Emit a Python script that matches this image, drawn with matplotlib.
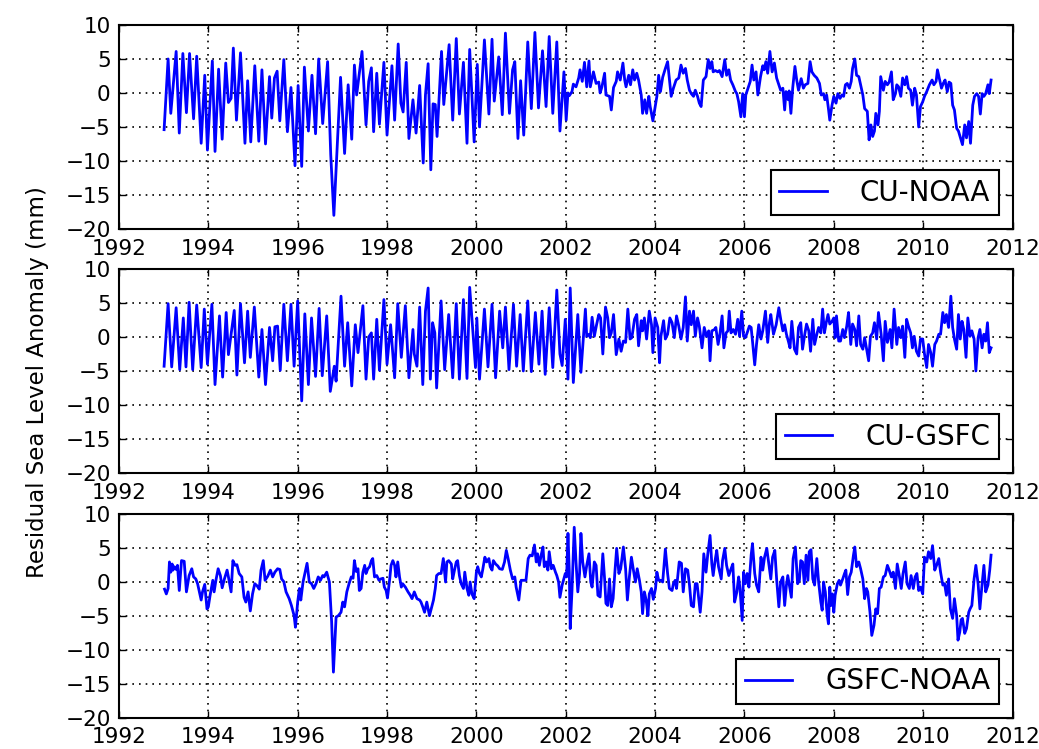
import numpy as np
import matplotlib
matplotlib.use('Agg')
import matplotlib.pyplot as plt

# CU-NOAA residual (decimal year, mm)
t_cu_noaa = [1993.01, 1993.10, 1993.16, 1993.28, 1993.35, 1993.43, 1993.51, 1993.58, 1993.67, 1993.74,
             1993.84, 1993.92, 1993.98, 1994.09, 1994.15, 1994.23, 1994.31, 1994.39, 1994.45, 1994.51,
             1994.56, 1994.63, 1994.72, 1994.82, 1994.88, 1994.95, 1995.04, 1995.13, 1995.20, 1995.28,
             1995.37, 1995.42, 1995.48, 1995.54, 1995.60, 1995.69, 1995.77, 1995.85, 1995.94, 1996.01,
             1996.09, 1996.15, 1996.24, 1996.32, 1996.40, 1996.47, 1996.56, 1996.67, 1996.74, 1996.81,
             1996.96, 1997.05, 1997.13, 1997.21, 1997.27, 1997.32, 1997.44, 1997.53, 1997.59, 1997.65,
             1997.70, 1997.77, 1997.83, 1997.93, 1998.00, 1998.11, 1998.17, 1998.25, 1998.31, 1998.36,
             1998.43, 1998.49, 1998.58, 1998.65, 1998.73, 1998.81, 1998.86, 1998.92, 1998.98, 1999.03,
             1999.08, 1999.12, 1999.22, 1999.27, 1999.39, 1999.47, 1999.55, 1999.62, 1999.71, 1999.79,
             1999.85, 1999.95, 2000.02, 2000.07, 2000.18, 2000.28, 2000.35, 2000.40, 2000.50, 2000.58,
             2000.65, 2000.74, 2000.81, 2000.86, 2000.93, 2000.99, 2001.06, 2001.15, 2001.23, 2001.31,
             2001.39, 2001.48, 2001.56, 2001.63, 2001.71, 2001.80, 2001.87, 2001.96, 2002.01, 2002.05,
             2002.08, 2002.14, 2002.17, 2002.23, 2002.29, 2002.32, 2002.37, 2002.42, 2002.47, 2002.52,
             2002.55, 2002.62, 2002.68, 2002.74, 2002.77, 2002.81, 2002.87, 2002.90, 2002.98, 2003.02,
             2003.07, 2003.13, 2003.16, 2003.22, 2003.28, 2003.32, 2003.35, 2003.41, 2003.45, 2003.50,
             2003.54, 2003.59, 2003.63, 2003.69, 2003.72, 2003.77, 2003.81, 2003.86, 2003.89, 2003.95,
             2003.99, 2004.04, 2004.08, 2004.12, 2004.17, 2004.23, 2004.28, 2004.32, 2004.36, 2004.41,
             2004.47, 2004.53, 2004.58, 2004.63, 2004.68, 2004.72, 2004.77, 2004.81, 2004.86, 2004.90,
             2004.95, 2004.99, 2005.03, 2005.08, 2005.14, 2005.19, 2005.23, 2005.27, 2005.30, 2005.35,
             2005.40, 2005.44, 2005.50, 2005.56, 2005.60, 2005.65, 2005.69, 2005.74, 2005.80, 2005.83,
             2005.87, 2005.92, 2005.96, 2006.00, 2006.03, 2006.08, 2006.13, 2006.17, 2006.21, 2006.26,
             2006.30, 2006.36, 2006.41, 2006.44, 2006.48, 2006.52, 2006.57, 2006.62, 2006.67, 2006.72,
             2006.77, 2006.81, 2006.86, 2006.90, 2006.93, 2006.98, 2007.00, 2007.04, 2007.08, 2007.13,
             2007.17, 2007.21, 2007.27, 2007.32, 2007.36, 2007.42, 2007.47, 2007.51, 2007.56, 2007.62,
             2007.68, 2007.72, 2007.77, 2007.80, 2007.84, 2007.88, 2007.91, 2007.96, 2008.00, 2008.05,
             2008.09, 2008.14, 2008.18, 2008.22, 2008.26, 2008.30, 2008.35, 2008.39, 2008.42, 2008.47,
             2008.51, 2008.56, 2008.60, 2008.65, 2008.69, 2008.75, 2008.79, 2008.83, 2008.87, 2008.91,
             2008.94, 2008.99, 2009.02, 2009.05, 2009.11, 2009.15, 2009.20, 2009.24, 2009.29, 2009.33,
             2009.38, 2009.41, 2009.45, 2009.50, 2009.54, 2009.59, 2009.63, 2009.67, 2009.72, 2009.76,
             2009.81, 2009.85, 2009.90, 2009.94, 2009.99, 2010.03, 2010.08, 2010.14, 2010.20, 2010.24,
             2010.29, 2010.32, 2010.36, 2010.41, 2010.45, 2010.49, 2010.54, 2010.58, 2010.62, 2010.66,
             2010.70, 2010.75, 2010.79, 2010.85, 2010.88, 2010.93, 2010.97, 2011.02, 2011.06, 2011.11,
             2011.15, 2011.20, 2011.24, 2011.28, 2011.32, 2011.36, 2011.40, 2011.45, 2011.48, 2011.52]
v_cu_noaa = [-5.4, 5.0, -3.0, 6.1, -5.9, 5.8, -2.9, 5.8, -3.8, 5.4,
             -7.4, 2.6, -8.4, 4.7, -8.6, 3.5, -6.8, 4.4, -1.4, -0.8,
             6.6, -4.0, 5.9, -7.4, 1.8, -7.2, 4.0, -7.1, 3.4, -7.5,
             2.4, -3.7, 2.2, 3.2, -4.1, 4.9, -5.7, 0.8, -10.7, 1.1,
             -10.8, 3.8, -5.6, 2.6, -6.0, 5.0, -4.5, 4.6, -9.1, -18.0,
             2.3, -8.9, 1.2, -6.8, 4.1, -0.3, 6.1, -4.7, 1.7, 3.7,
             -5.7, 2.9, -4.6, 4.5, -6.2, 4.0, -4.0, 7.2, -1.5, -2.8,
             4.5, -6.7, -1.0, -5.9, 1.1, -10.3, -0.3, 4.3, -11.3, -1.6,
             -1.7, -6.4, 6.1, -1.7, 7.1, -4.0, 8.0, -3.1, 4.5, -7.4,
             6.4, -7.2, 4.2, -5.0, 7.8, -3.1, 7.9, -1.2, 5.3, -3.2,
             8.8, -3.0, 3.4, 4.6, -6.7, 1.8, -6.2, 7.5, -2.3, 8.9,
             -2.2, 6.2, -2.0, 8.3, -3.0, 7.5, -5.6, 3.1, -4.0, 0.0,
             -0.4, 0.2, 1.3, 0.9, 2.2, 3.4, 1.7, 4.5, 0.9, 4.7,
             0.9, 3.1, 1.4, 1.6, 0.0, 0.9, 2.9, -0.3, -0.5, -2.5,
             0.8, 1.7, 3.1, 1.9, 4.4, 1.9, 0.9, 2.6, 1.2, 3.4,
             1.9, 2.9, 1.9, -0.3, -3.0, -1.0, -3.0, -0.5, -2.0, -4.1,
             -2.5, -0.5, 2.6, 0.2, 2.3, 3.6, 4.6, 2.1, -0.5, 0.7,
             1.9, 2.2, 4.1, 2.9, 3.6, 1.9, 0.4, -0.1, -0.5, 0.4,
             -0.5, -1.5, -2.0, 1.9, 2.4, 4.9, 3.6, 4.6, 3.1, 3.3,
             3.1, 3.3, 2.4, 4.9, 2.6, 3.4, 1.9, 1.2, 0.2, -0.1,
             -1.3, -3.5, -0.1, -3.5, -0.3, 0.7, 1.7, 4.1, 1.9, 3.1,
             -0.3, 2.4, 4.0, 3.4, 4.6, 2.9, 6.1, 3.1, 4.4, 2.2,
             1.2, 0.4, 0.7, -2.5, 0.2, -1.0, 0.3, -3.0, 0.7, 3.9,
             1.9, 0.4, 2.1, 0.7, 1.2, 1.4, 4.6, 3.1, 2.6, 2.2,
             1.4, -0.3, -0.1, -1.0, -0.3, -2.3, -4.0, -1.8, -0.5, -1.5,
             -0.1, -0.8, -0.3, -0.5, 1.2, 1.4, 0.7, 1.7, 3.6, 5.0,
             2.6, 2.4, 1.2, -0.3, -2.3, -2.7, -6.9, -4.7, -6.4, -5.6,
             -3.0, -4.7, -2.7, 2.4, 0.4, 1.7, 1.2, 1.6, 3.1, -1.0,
             -0.1, 1.2, 0.9, -0.5, 2.2, 1.2, 2.4, 0.7, 0.4, -1.8,
             0.7, -0.3, -5.0, -2.0, -1.3, -0.5, 0.2, 1.2, 1.9, 1.2,
             1.7, 3.4, 2.2, 0.7, 1.4, 1.9, 0.2, 1.6, 1.4, -1.8,
             -2.5, -5.2, -5.6, -6.9, -7.6, -4.7, -6.6, -4.2, -7.4, -1.8,
             -0.5, -0.1, -0.5, -3.1, -0.1, -0.5, -0.1, 1.2, -0.1, 1.9]

# CU-GSFC residual
t_cu_gsfc = [1993.01, 1993.10, 1993.18, 1993.28, 1993.36, 1993.44, 1993.50, 1993.57, 1993.65, 1993.74,
             1993.84, 1993.91, 1993.98, 1994.08, 1994.15, 1994.25, 1994.32, 1994.40, 1994.45, 1994.58,
             1994.64, 1994.72, 1994.81, 1994.88, 1994.94, 1995.03, 1995.13, 1995.20, 1995.28, 1995.37,
             1995.44, 1995.49, 1995.55, 1995.61, 1995.69, 1995.77, 1995.85, 1995.92, 1996.00, 1996.09,
             1996.16, 1996.24, 1996.31, 1996.40, 1996.48, 1996.55, 1996.65, 1996.73, 1996.82, 1996.86,
             1996.97, 1997.05, 1997.12, 1997.21, 1997.29, 1997.35, 1997.46, 1997.53, 1997.59, 1997.65,
             1997.70, 1997.77, 1997.83, 1997.93, 1998.00, 1998.08, 1998.17, 1998.24, 1998.32, 1998.41,
             1998.49, 1998.58, 1998.61, 1998.67, 1998.73, 1998.80, 1998.86, 1998.92, 1998.97, 1999.02,
             1999.07, 1999.11, 1999.21, 1999.29, 1999.38, 1999.47, 1999.55, 1999.62, 1999.71, 1999.79,
             1999.85, 1999.98, 2000.01, 2000.07, 2000.18, 2000.26, 2000.35, 2000.43, 2000.52, 2000.59,
             2000.65, 2000.73, 2000.83, 2000.90, 2000.98, 2001.05, 2001.15, 2001.23, 2001.32, 2001.40,
             2001.47, 2001.54, 2001.63, 2001.71, 2001.80, 2001.87, 2001.92, 2001.99, 2002.05, 2002.10,
             2002.17, 2002.27, 2002.34, 2002.44, 2002.47, 2002.52, 2002.55, 2002.59, 2002.64, 2002.69,
             2002.74, 2002.78, 2002.83, 2002.89, 2002.94, 2002.98, 2003.02, 2003.07, 2003.13, 2003.19,
             2003.24, 2003.29, 2003.34, 2003.39, 2003.44, 2003.48, 2003.54, 2003.59, 2003.63, 2003.69,
             2003.72, 2003.76, 2003.81, 2003.87, 2003.92, 2003.95, 2004.00, 2004.06, 2004.10, 2004.13,
             2004.19, 2004.23, 2004.28, 2004.33, 2004.38, 2004.43, 2004.48, 2004.53, 2004.58, 2004.63,
             2004.68, 2004.72, 2004.77, 2004.81, 2004.86, 2004.90, 2004.95, 2004.99, 2005.05, 2005.10,
             2005.15, 2005.20, 2005.23, 2005.27, 2005.33, 2005.36, 2005.41, 2005.45, 2005.50, 2005.54,
             2005.59, 2005.63, 2005.66, 2005.70, 2005.75, 2005.80, 2005.85, 2005.89, 2005.94, 2005.98,
             2006.02, 2006.06, 2006.11, 2006.15, 2006.18, 2006.23, 2006.27, 2006.32, 2006.37, 2006.41,
             2006.47, 2006.52, 2006.56, 2006.59, 2006.65, 2006.71, 2006.77, 2006.82, 2006.86, 2006.90,
             2006.94, 2006.99, 2007.02, 2007.06, 2007.12, 2007.17, 2007.21, 2007.26, 2007.30, 2007.35,
             2007.39, 2007.44, 2007.48, 2007.53, 2007.57, 2007.62, 2007.66, 2007.71, 2007.75, 2007.79,
             2007.83, 2007.87, 2007.91, 2007.96, 2008.00, 2008.03, 2008.06, 2008.11, 2008.15, 2008.20,
             2008.24, 2008.29, 2008.33, 2008.38, 2008.42, 2008.47, 2008.51, 2008.56, 2008.60, 2008.65,
             2008.69, 2008.73, 2008.78, 2008.82, 2008.87, 2008.91, 2008.96, 2009.00, 2009.06, 2009.11,
             2009.15, 2009.20, 2009.26, 2009.30, 2009.35, 2009.41, 2009.45, 2009.50, 2009.54, 2009.59,
             2009.63, 2009.67, 2009.72, 2009.76, 2009.80, 2009.85, 2009.90, 2009.94, 2009.99, 2010.03,
             2010.08, 2010.12, 2010.17, 2010.21, 2010.26, 2010.30, 2010.35, 2010.39, 2010.44, 2010.48,
             2010.52, 2010.57, 2010.62, 2010.66, 2010.70, 2010.75, 2010.79, 2010.83, 2010.87, 2010.91,
             2010.96, 2011.00, 2011.05, 2011.09, 2011.14, 2011.18, 2011.23, 2011.27, 2011.32, 2011.36,
             2011.40, 2011.44, 2011.48, 2011.52]
v_cu_gsfc = [-4.3, 4.9, -4.4, 4.3, -4.8, 2.8, -4.4, 5.1, -4.8, 4.7,
             -4.5, 4.1, -4.0, 4.8, -7.0, 3.1, -5.9, 3.6, -2.6, 3.9,
             -5.6, 4.9, -3.8, 3.8, -3.0, 4.4, -5.9, 1.1, -7.0, 1.4,
             -3.5, 1.5, 1.6, -4.9, 4.8, -3.5, 4.8, -4.3, 5.3, -9.4,
             3.4, -7.0, 2.8, -5.8, 4.2, -5.7, 3.1, -8.0, -4.3, -6.5,
             6.0, -4.3, 2.1, -7.2, 1.8, -2.3, 4.6, -6.2, 0.0, 0.6,
             -6.2, 2.6, -4.9, 5.5, -4.0, 1.8, -6.0, 4.9, -3.0, 4.6,
             -6.0, 1.1, -2.5, -4.3, 4.4, -7.0, 3.8, 7.2, -6.2, 2.1,
             0.6, -7.5, 5.3, -4.8, 3.3, -6.0, 4.9, -6.2, 5.5, -6.1,
             7.3, -4.5, 2.8, -6.2, 4.1, -4.4, 4.8, -6.0, 3.8, -1.6,
             4.4, -4.8, 4.8, -4.3, 3.3, -5.0, 5.3, -5.1, 3.6, -4.0,
             3.8, -5.5, 4.3, -4.5, 6.9, -2.5, -4.2, 2.6, -6.2, 7.2,
             -6.7, 3.3, -5.2, 4.1, 0.1, 0.4, -0.1, 2.9, 0.1, 1.8,
             3.3, 2.8, -2.5, 4.4, 2.8, -0.1, 0.6, 3.3, -2.6, -0.3,
             -2.1, -0.6, -0.8, 4.1, -0.3, -0.1, 2.6, 3.3, -1.3, 2.4,
             0.9, 2.8, -0.3, 3.8, 1.8, -2.3, 2.8, 1.4, -3.8, 0.1,
             2.4, -0.3, 0.4, 2.8, 2.1, -0.1, 3.1, 1.6, -0.3, 1.4,
             5.9, -0.6, 3.8, 1.8, 3.8, 0.1, 2.8, 1.6, -1.6, 1.4,
             0.1, 0.9, -3.5, 0.9, 1.1, 1.4, -1.1, 0.4, 3.1, -1.6,
             0.6, 0.9, 3.8, 0.6, 1.1, 0.4, 2.6, 0.1, 3.8, 0.1,
             -0.1, 0.6, 1.6, 1.4, -0.6, -4.1, -1.1, 1.8, -0.3, 0.9,
             3.8, -0.8, 2.1, 3.3, 0.4, 1.8, 4.3, 2.3, 0.9, 1.8,
             0.4, -0.8, -1.6, 2.3, -1.8, -2.5, 1.4, 2.1, -1.8, 0.4,
             1.9, 0.9, -2.1, 2.6, -1.1, 0.4, 1.4, 0.6, 4.1, 0.6,
             2.1, 3.3, 1.9, 2.3, 2.8, -0.1, 3.1, -0.6, -0.6, 1.1,
             -0.1, 1.6, 3.6, -1.1, 1.9, 1.1, -1.3, 3.1, -1.1, -1.8,
             -0.1, -1.6, -3.5, 0.1, 0.6, 2.1, -0.3, 3.6, 0.4, -3.5,
             2.3, -0.8, 1.1, -1.6, 4.1, -1.1, 1.4, -0.1, 1.6, -3.0,
             2.6, 1.6, 0.6, -1.6, 0.1, -2.1, -2.8, -0.3, -0.3, -2.5,
             -4.5, -1.1, -2.3, -4.3, -1.1, -0.6, 0.4, 0.4, 3.6, 2.1,
             3.3, 1.4, 6.0, 1.4, -0.3, -1.8, 3.3, -0.3, 2.3, 1.1,
             -3.0, 2.8, 0.1, 0.9, -0.3, -5.0, -0.1, 1.1, -1.6, 0.4,
             -0.6, 2.1, -2.3, -1.6]

# GSFC-NOAA residual
t_gsfc_noaa = [1993.02, 1993.06, 1993.10, 1993.13, 1993.16, 1993.19, 1993.21, 1993.24, 1993.28, 1993.31,
               1993.35, 1993.40, 1993.46, 1993.51, 1993.57, 1993.63, 1993.67, 1993.72, 1993.76, 1993.80,
               1993.84, 1993.87, 1993.92, 1993.97, 1994.00, 1994.04, 1994.10, 1994.13, 1994.17, 1994.22,
               1994.27, 1994.31, 1994.36, 1994.42, 1994.45, 1994.51, 1994.55, 1994.60, 1994.64, 1994.69,
               1994.75, 1994.80, 1994.84, 1994.89, 1994.94, 1994.99, 1995.04, 1995.09, 1995.14, 1995.18,
               1995.23, 1995.27, 1995.33, 1995.39, 1995.44, 1995.49, 1995.55, 1995.60, 1995.64, 1995.69,
               1995.74, 1995.81, 1995.86, 1995.92, 1995.95, 1996.00, 1996.04, 1996.07, 1996.12, 1996.16,
               1996.21, 1996.26, 1996.31, 1996.36, 1996.41, 1996.46, 1996.51, 1996.56, 1996.59, 1996.65,
               1996.71, 1996.76, 1996.80, 1996.86, 1996.91, 1996.97, 1997.01, 1997.05, 1997.10, 1997.15,
               1997.20, 1997.24, 1997.27, 1997.31, 1997.35, 1997.38, 1997.42, 1997.46, 1997.50, 1997.53,
               1997.57, 1997.61, 1997.65, 1997.68, 1997.72, 1997.77, 1997.82, 1997.86, 1997.91, 1997.94,
               1997.98, 1998.01, 1998.06, 1998.09, 1998.13, 1998.17, 1998.20, 1998.24, 1998.28, 1998.32,
               1998.35, 1998.41, 1998.47, 1998.52, 1998.56, 1998.61, 1998.67, 1998.73, 1998.76, 1998.80,
               1998.84, 1998.89, 1998.95, 1998.99, 1999.04, 1999.08, 1999.11, 1999.16, 1999.21, 1999.26,
               1999.31, 1999.34, 1999.38, 1999.44, 1999.47, 1999.51, 1999.55, 1999.58, 1999.62, 1999.66,
               1999.71, 1999.74, 1999.79, 1999.83, 1999.86, 1999.90, 1999.95, 2000.00, 2000.03, 2000.07,
               2000.11, 2000.14, 2000.19, 2000.23, 2000.28, 2000.31, 2000.35, 2000.38, 2000.43, 2000.48,
               2000.52, 2000.58, 2000.63, 2000.67, 2000.71, 2000.76, 2000.81, 2000.86, 2000.89, 2000.95,
               2001.00, 2001.05, 2001.11, 2001.16, 2001.20, 2001.25, 2001.30, 2001.34, 2001.37, 2001.41,
               2001.45, 2001.49, 2001.52, 2001.56, 2001.60, 2001.63, 2001.68, 2001.72, 2001.77, 2001.80,
               2001.84, 2001.87, 2001.92, 2001.99, 2002.02, 2002.05, 2002.08, 2002.10, 2002.14, 2002.19,
               2002.23, 2002.27, 2002.31, 2002.34, 2002.38, 2002.43, 2002.47, 2002.52, 2002.56, 2002.59,
               2002.64, 2002.68, 2002.72, 2002.77, 2002.83, 2002.87, 2002.90, 2002.94, 2002.98, 2003.02,
               2003.06, 2003.10, 2003.14, 2003.19, 2003.23, 2003.29, 2003.34, 2003.38, 2003.42, 2003.47,
               2003.51, 2003.56, 2003.60, 2003.65, 2003.69, 2003.72, 2003.76, 2003.80, 2003.84, 2003.87,
               2003.92, 2003.96, 2004.01, 2004.04, 2004.08, 2004.13, 2004.17, 2004.23, 2004.28, 2004.32,
               2004.38, 2004.41, 2004.45, 2004.48, 2004.54, 2004.59, 2004.63, 2004.68, 2004.73, 2004.77,
               2004.81, 2004.86, 2004.90, 2004.94, 2004.98, 2005.01, 2005.05, 2005.09, 2005.14, 2005.18,
               2005.23, 2005.27, 2005.30, 2005.35, 2005.38, 2005.42, 2005.48, 2005.51, 2005.56, 2005.60,
               2005.65, 2005.69, 2005.74, 2005.78, 2005.83, 2005.87, 2005.90, 2005.95, 2005.98, 2006.02,
               2006.06, 2006.10, 2006.15, 2006.18, 2006.23, 2006.27, 2006.32, 2006.37, 2006.41, 2006.45,
               2006.50, 2006.54, 2006.59, 2006.63, 2006.68, 2006.72, 2006.77, 2006.81, 2006.86, 2006.90,
               2006.94, 2006.97, 2007.00, 2007.05, 2007.09, 2007.14, 2007.19, 2007.23, 2007.26, 2007.30,
               2007.34, 2007.38, 2007.42, 2007.45, 2007.49, 2007.53, 2007.57, 2007.62, 2007.66, 2007.71,
               2007.74, 2007.77, 2007.81, 2007.85, 2007.88, 2007.91, 2007.94, 2007.97, 2008.00, 2008.03,
               2008.08, 2008.12, 2008.15, 2008.20, 2008.24, 2008.27, 2008.31, 2008.35, 2008.39, 2008.44,
               2008.47, 2008.51, 2008.56, 2008.60, 2008.65, 2008.69, 2008.73, 2008.76, 2008.81, 2008.85,
               2008.90, 2008.94, 2008.98, 2009.02, 2009.06, 2009.11, 2009.15, 2009.20, 2009.24, 2009.29,
               2009.33, 2009.38, 2009.42, 2009.47, 2009.51, 2009.55, 2009.60, 2009.64, 2009.69, 2009.73,
               2009.78, 2009.82, 2009.86, 2009.90, 2009.94, 2009.99, 2010.03, 2010.08, 2010.12, 2010.17,
               2010.21, 2010.26, 2010.30, 2010.35, 2010.39, 2010.44, 2010.48, 2010.52, 2010.57, 2010.61,
               2010.66, 2010.70, 2010.75, 2010.78, 2010.82, 2010.85, 2010.88, 2010.93, 2010.97, 2011.02,
               2011.05, 2011.09, 2011.14, 2011.18, 2011.23, 2011.27, 2011.32, 2011.36, 2011.40, 2011.45,
               2011.49, 2011.52]
v_gsfc_noaa = [-1.1, -1.8, -1.0, 2.9, 1.4, 2.6, 1.7, 2.2, 1.8, 2.4,
               -1.3, 3.1, 3.0, -1.5, 0.9, 1.9, 0.7, 0.4, -0.3, -1.5,
               -2.7, -1.5, -0.4, -4.0, -3.7, -2.0, 0.2, -1.5, 0.2, 1.9,
               0.9, -0.9, 0.4, 1.7, 0.7, -1.5, 3.1, 2.4, 2.5, 1.2,
               0.7, -2.3, -3.0, -1.5, -4.3, -1.8, -0.3, -0.6, -1.1, 1.7,
               3.1, 0.2, 0.8, 1.7, 0.7, 1.4, 1.9, 1.8, 0.4, 0.0,
               -1.5, -2.5, -3.5, -5.0, -6.7, -3.0, -1.0, -2.7, -0.05, 1.2,
               2.7, -0.05, -0.3, -1.0, -0.3, 0.7, 0.2, 0.9, 0.7, 1.4,
               -0.05, -5.9, -13.3, -5.2, -5.0, -4.5, -3.0, -3.7, -1.5, -0.3,
               0.7, 0.5, 3.1, 1.5, 1.9, -1.3, -1.0, 1.4, 2.4, 1.2,
               1.9, 2.2, 3.1, 3.4, 0.7, 0.9, 0.2, 0.4, 0.5, -0.8,
               -1.3, -2.4, 0.4, 2.4, 3.1, 2.4, 0.7, 2.9, 0.7, -0.8,
               -0.3, -0.8, -1.5, -2.0, -2.5, -1.5, -2.5, -2.7, -3.0, -3.7,
               -4.5, -3.0, -5.0, -4.0, -2.7, -1.0, 0.9, 1.2, 1.2, 3.4,
               -0.05, 2.9, 3.1, 2.6, 0.4, 1.7, 2.9, 3.1, 0.9, -0.3,
               -1.0, 1.4, -1.0, -2.0, -0.05, -1.8, -2.5, 1.4, 2.2, 1.2,
               0.7, 1.7, 3.6, 2.9, 3.4, 2.2, 1.7, 3.1, 2.6, 2.3,
               1.9, 1.8, 2.9, 4.6, 3.4, 1.7, 0.4, 0.7, -0.8, -2.7,
               0.2, 0.2, 0.2, 3.4, 3.9, 3.8, 5.4, 2.9, 4.1, 2.4,
               3.9, 5.1, 2.2, 2.9, 1.7, 4.4, 1.9, 2.4, 1.4, 0.9,
               -0.05, -2.3, -0.5, 1.2, 0.7, 7.1, 1.4, -6.9, -1.3, 8.0,
               2.9, -1.5, 1.2, 7.1, 2.9, 0.7, 2.4, 4.1, -0.05, -0.8,
               2.9, 2.4, -2.0, -2.25, 4.1, 0.4, -3.2, -3.5, 0.4, -3.7,
               -2.5, 1.4, 4.9, 1.2, 1.9, 5.1, 1.9, -2.7, 0.4, 3.6,
               1.9, -0.05, 1.9, 0.2, -1.5, -4.7, -1.5, -2.7, -5.0, -1.8,
               -1.0, -2.6, -1.0, 1.4, 0.2, 0.2, -0.05, 4.8, 1.2, -1.0,
               -1.3, -0.3, 0.2, -1.0, 2.9, 2.7, -1.5, 1.9, 1.7, -0.5,
               -3.5, -3.7, -0.3, -0.3, -2.7, -4.5, -1.5, 4.1, 1.4, 4.1,
               6.8, 2.6, 0.9, 3.4, 4.6, 2.2, 0.4, 3.1, 4.9, 2.4,
               0.9, 1.7, 2.6, -3.0, -1.5, 0.7, -1.0, -5.7, 1.4, -0.3,
               1.2, -0.8, 3.9, 5.6, 1.2, -0.5, -1.5, 3.6, 1.7, 3.6,
               4.9, 2.9, 0.4, 3.6, 4.6, 0.4, -3.7, -0.05, 0.7, -3.5,
               -0.5, 0.9, -0.3, -2.3, 3.4, 5.1, -0.3, 0.2, 3.1, 2.9,
               -0.3, 3.9, 0.2, 4.4, 4.7, 0.4, -0.5, 3.4, -0.05, -3.0,
               -4.2, -0.05, -1.5, -4.7, -6.2, -0.8, -3.5, -1.8, -4.5, -2.0,
               -0.3, 0.2, -0.5, 0.4, 1.2, 1.7, -1.9, 0.7, 1.4, 3.9,
               5.1, 2.2, 2.9, 1.9, 0.4, -2.5, -1.0, -1.5, -4.5, -7.9,
               -6.4, -4.0, -4.7, -1.0, -0.8, 0.7, 0.9, 2.4, 1.7, 0.7,
               1.4, -1.0, 2.6, 0.7, -1.0, 1.2, 2.9, -0.3, -1.0, 0.9,
               -1.0, 0.7, 1.2, -1.3, -0.8, -1.8, 3.6, 2.9, 4.4, 3.4,
               5.3, 1.7, 2.4, 3.4, 1.4, -0.5, -0.3, -2.0, 0.4, -4.0,
               -5.4, -2.5, -5.0, -8.6, -7.4, -5.6, -5.4, -7.6, -6.9, -4.5,
               -4.0, -3.5, 0.4, 2.4, -0.3, -4.0, -0.3, 2.4, -1.5, -0.5,
               1.7, 3.9]

labels = ['CU-NOAA', 'CU-GSFC', 'GSFC-NOAA']
xticks = list(range(1992, 2013, 2))
yticks = list(range(-20, 11, 5))

plt.rcParams['font.family'] = 'DejaVu Sans'

fig = plt.figure(figsize=(10.39, 7.49), dpi=100)
fig.patch.set_facecolor('white')

# axes rectangles in figure fractions
rects = [[0.1145, 0.6943, 0.860, 0.2724],
         [0.1145, 0.3685, 0.860, 0.2724],
         [0.1145, 0.0418, 0.860, 0.2724]]
series = [(t_cu_noaa, v_cu_noaa), (t_cu_gsfc, v_cu_gsfc), (t_gsfc_noaa, v_gsfc_noaa)]

for rect, (t, v), lab in zip(rects, series, labels):
    ax = fig.add_axes(rect)
    ax.plot(t, v, color='blue', lw=2.0, label=lab)
    ax.set_xlim(1992, 2012)
    ax.set_ylim(-20, 10)
    ax.set_xticks(xticks)
    ax.set_yticks(yticks)
    ax.grid(True, color='k', linestyle=(0, (1, 3)), linewidth=1.2)
    ax.tick_params(direction='in', top=True, right=True, length=5, width=1, labelsize=15.5)
    ax.tick_params(axis='x', pad=7)
    ax.tick_params(axis='y', pad=6)
    for s in ax.spines.values():
        s.set_linewidth(1.5)
    leg = ax.legend(loc='lower right', fontsize=20, fancybox=False, framealpha=1,
                    handlelength=1.7, handletextpad=1.2, borderaxespad=0.5, borderpad=0.3)
    leg.get_frame().set_edgecolor('black')
    leg.get_frame().set_linewidth(1.5)

fig.text(0.036, 0.49, 'Residual Sea Level Anomaly (mm)', rotation=90,
         va='center', ha='center', fontsize=16.5)

fig.savefig('out.png', dpi=100, facecolor='white')
